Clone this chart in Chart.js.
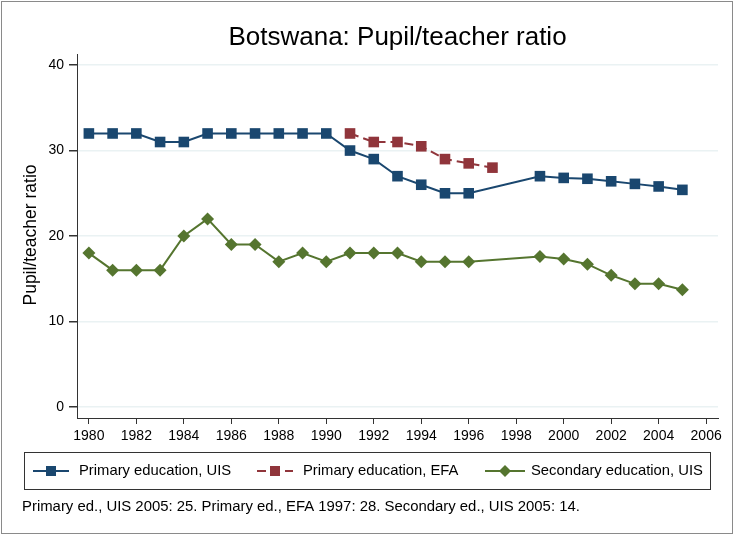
<!DOCTYPE html>
<html>
<head>
<meta charset="utf-8">
<script src="https://cdn.jsdelivr.net/npm/chart.js@4"></script>
<style>
  html, body { margin: 0; padding: 0; background: #fff; }
  #wrap { width: 736px; height: 535px; position: relative; }
</style>
</head>
<body>
<div id="wrap"><canvas id="chart" width="736" height="535"></canvas></div>
<script>
// data
var primaryUisYears = [1980, 1981, 1982, 1983, 1984, 1985, 1986, 1987, 1988, 1989, 1990,
    1991, 1992, 1993, 1994, 1995, 1996, 1999, 2000, 2001, 2002, 2003, 2004, 2005];
var primaryUisValues = [32, 32, 32, 31, 31, 32, 32, 32, 32, 32, 32,
    30, 29, 27, 26, 25, 25, 27, 26.8, 26.7, 26.4, 26.1, 25.8, 25.4];

var primaryEfaYears = [1991, 1992, 1993, 1994, 1995, 1996, 1997];
var primaryEfaValues = [32, 31, 31, 30.5, 29, 28.5, 28];

var secondaryUisYears = [1980, 1981, 1982, 1983, 1984, 1985, 1986, 1987, 1988, 1989, 1990,
    1991, 1992, 1993, 1994, 1995, 1996, 1999, 2000, 2001, 2002, 2003, 2004, 2005];
var secondaryUisValues = [18, 16, 16, 16, 20, 22, 19, 19, 17, 18, 17,
    18, 18, 18, 17, 17, 17, 17.6, 17.3, 16.7, 15.4, 14.4, 14.4, 13.7];

var xTickValues = [1980, 1982, 1984, 1986, 1988, 1990, 1992, 1994, 1996, 1998, 2000, 2002, 2004, 2006];
var yTickValues = [0, 10, 20, 30, 40];

var seriesNames = ["Primary education, UIS", "Primary education, EFA", "Secondary education, UIS"];
var titleText = "Botswana: Pupil/teacher ratio";
var yAxisText = "Pupil/teacher ratio";
var noteText = "Primary ed., UIS 2005: 25. Primary ed., EFA 1997: 28. Secondary ed., UIS 2005: 14.";

var NAVY = "#1a476f", MAROON = "#90353b", GREEN = "#55752f";
var FONT = "'Liberation Sans', Arial, sans-serif";

function toPoints(xs, ys) {
    return xs.map(function (x, i) { return { x: x, y: ys[i] }; });
}

// stata-like legend sample: line + marker
function drawSample(ctx, x0, x1, y, color, dash, style) {
    ctx.save();
    ctx.strokeStyle = color;
    ctx.lineWidth = 2;
    ctx.setLineDash(dash);
    ctx.beginPath();
    ctx.moveTo(x0, y);
    ctx.lineTo(x1, y);
    ctx.stroke();
    ctx.setLineDash([]);
    ctx.fillStyle = color;
    var cx = (x0 + x1) / 2;
    if (style === "rect") {
        ctx.fillRect(cx - 5, y - 5, 10, 10);
    } else {
        ctx.beginPath();
        ctx.moveTo(cx - 6, y);
        ctx.lineTo(cx, y - 6);
        ctx.lineTo(cx + 6, y);
        ctx.lineTo(cx, y + 6);
        ctx.closePath();
        ctx.fill();
    }
    ctx.restore();
}

var decorations = {
    id: "decorations",
    afterDraw: function (chart) {
        var ctx = chart.ctx;
        var area = chart.chartArea;
        ctx.save();

        // outer frame
        ctx.strokeStyle = "#8a8a8a";
        ctx.lineWidth = 1;
        ctx.strokeRect(1.5, 1.5, 731, 532);

        // title
        ctx.fillStyle = "#000";
        ctx.font = "26px " + FONT;
        ctx.textAlign = "center";
        ctx.textBaseline = "middle";
        ctx.fillText(titleText, (area.left + area.right) / 2, 38);

        // y axis title
        ctx.save();
        ctx.translate(31, 235);
        ctx.rotate(-Math.PI / 2);
        ctx.font = "17.5px " + FONT;
        ctx.fillText(yAxisText, 0, 0);
        ctx.restore();

        // legend box
        ctx.strokeStyle = "#333";
        ctx.strokeRect(24.5, 452.5, 686, 37);
        var ly = 471;
        drawSample(ctx, 33, 69, ly, NAVY, [], "rect");
        drawSample(ctx, 257, 293, ly, MAROON, [9, 5], "rect");
        drawSample(ctx, 485, 525, ly, GREEN, [], "rectRot");
        ctx.font = "14.8px " + FONT;
        ctx.textAlign = "left";
        ctx.fillStyle = "#000";
        ctx.fillText(seriesNames[0], 79, ly);
        ctx.fillText(seriesNames[1], 303, ly);
        ctx.fillText(seriesNames[2], 531, ly);

        // note
        ctx.font = "14.9px " + FONT;
        ctx.fillText(noteText, 22, 507);
        ctx.restore();
    }
};

var ctx = document.getElementById("chart");
var myChart = new Chart(ctx, {
    type: "line",
    data: {
        datasets: [{
            label: seriesNames[0],
            data: toPoints(primaryUisYears, primaryUisValues),
            borderColor: NAVY,
            backgroundColor: NAVY,
            borderWidth: 2,
            pointStyle: "rect",
            pointRadius: 7.5,
            pointBorderWidth: 0
        }, {
            label: seriesNames[1],
            data: toPoints(primaryEfaYears, primaryEfaValues),
            borderColor: MAROON,
            backgroundColor: MAROON,
            borderWidth: 2,
            borderDash: [9, 5],
            pointStyle: "rect",
            pointRadius: 7.5,
            pointBorderWidth: 0
        }, {
            label: seriesNames[2],
            data: toPoints(secondaryUisYears, secondaryUisValues),
            borderColor: GREEN,
            backgroundColor: GREEN,
            borderWidth: 2,
            pointStyle: "rectRot",
            pointRadius: 6.5,
            pointBorderWidth: 0
        }]
    },
    options: {
        responsive: false,
        animation: false,
        events: [],
        layout: { padding: { left: 0, right: 18, top: 54, bottom: 87 } },
        plugins: {
            legend: { display: false },
            title: { display: false },
            tooltip: { enabled: false }
        },
        scales: {
            x: {
                type: "linear",
                min: 1979.5,
                max: 2006.5,
                afterBuildTicks: function (s) {
                    s.ticks = xTickValues.map(function (v) { return { value: v }; });
                },
                afterFit: function (s) { s.height = 30; },
                grid: { drawOnChartArea: false, tickLength: 6, tickColor: "#333" },
                border: { display: true, color: "#333", width: 1 },
                ticks: {
                    color: "#000",
                    padding: 4,
                    maxRotation: 0,
                    font: { family: FONT, size: 14 },
                    callback: function (v) { return String(v); }
                }
            },
            y: {
                min: -1.3,
                max: 41.3,
                afterBuildTicks: function (s) {
                    s.ticks = yTickValues.map(function (v) { return { value: v }; });
                },
                afterFit: function (s) { s.width = 77; },
                grid: { color: "#eaf2f3", lineWidth: 1.5, tickLength: 8, tickColor: "#333" },
                border: { display: true, color: "#333", width: 1 },
                ticks: {
                    color: "#000",
                    padding: 5,
                    font: { family: FONT, size: 14 },
                    callback: function (v) { return String(v); }
                }
            }
        }
    },
    plugins: [decorations]
});
</script>
</body>
</html>
